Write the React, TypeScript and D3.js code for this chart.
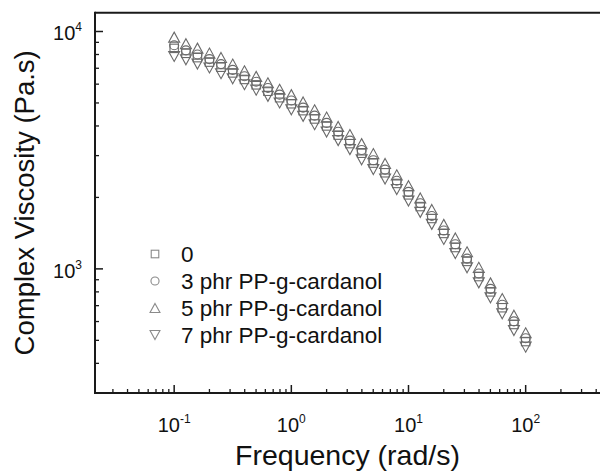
import React from "react";
import * as d3 from "d3";

const freq = [0.1, 0.126, 0.158, 0.2, 0.251, 0.316, 0.398, 0.501, 0.631, 0.794, 1, 1.26, 1.58, 2, 2.51, 3.16, 3.98, 5.01, 6.31, 7.94, 10, 12.6, 15.8, 20, 25.1, 31.6, 39.8, 50.1, 63.1, 79.4, 100];
const visc0 = [8490, 8090, 7760, 7430, 7070, 6690, 6280, 5960, 5600, 5260, 4960, 4640, 4280, 4000, 3660, 3370, 3070, 2790, 2540, 2290, 2050, 1830, 1630, 1410, 1230, 1075, 928, 800, 686, 583, 494];
const visc3 = [8750, 8330, 8000, 7650, 7290, 6890, 6480, 6140, 5780, 5420, 5120, 4780, 4420, 4120, 3780, 3470, 3170, 2870, 2620, 2350, 2110, 1890, 1670, 1450, 1270, 1105, 956, 824, 706, 601, 510];
const visc5 = [9470, 8880, 8510, 8110, 7770, 7290, 6830, 6470, 6080, 5710, 5420, 5050, 4680, 4360, 3980, 3680, 3370, 3060, 2780, 2490, 2240, 1990, 1780, 1540, 1350, 1180, 1015, 873, 750, 638, 538];
const visc7 = [7850, 7600, 7290, 7020, 6640, 6320, 5970, 5660, 5330, 5000, 4680, 4390, 4050, 3770, 3470, 3180, 2880, 2620, 2390, 2160, 1930, 1730, 1540, 1330, 1160, 1010, 873, 755, 647, 550, 468];
const seriesNames = ["0", "3 phr PP-g-cardanol", "5 phr PP-g-cardanol", "7 phr PP-g-cardanol"];
const seriesShapes = ["square", "circle", "up", "down"];
const xTickExps = [-1, 0, 1, 2];
const yTickExps = [3, 4];
const xTitle = "Frequency (rad/s)";
const yTitle = "Complex Viscosity (Pa.s)";

const FONT = "Arial, 'Liberation Sans', Helvetica, sans-serif";

function Marker({ shape, cx, cy, s, color }: { shape: string; cx: number; cy: number; s: number; color: string }) {
  const common = { fill: "none", stroke: color, strokeWidth: 1.1 };
  if (shape === "square") {
    const h = s * 0.42;
    return <rect x={cx - h} y={cy - h} width={2 * h} height={2 * h} {...common} />;
  }
  if (shape === "circle") {
    return <circle cx={cx} cy={cy} r={s * 0.45} {...common} />;
  }
  const w = s * 0.55;
  const hh = s * 0.5;
  if (shape === "up") {
    return <path d={`M${cx},${cy - hh}L${cx + w},${cy + hh}L${cx - w},${cy + hh}Z`} {...common} />;
  }
  return <path d={`M${cx},${cy + hh}L${cx + w},${cy - hh}L${cx - w},${cy - hh}Z`} {...common} />;
}

export default function App() {
  const W = 600, H = 472;
  const left = 95, right = 600, top = 12.7, bottom = 393;
  const x = d3.scaleLog().domain([0.0211, 431]).range([left, right]);
  const y = d3.scaleLog().domain([300, 12000]).range([bottom, top]);

  const series = [visc0, visc3, visc5, visc7];

  const xMinor: number[] = [];
  for (let d = -2; d <= 2; d++) for (let k = 2; k <= 9; k++) {
    const v = k * Math.pow(10, d);
    if (v > x.domain()[0] && v < x.domain()[1]) xMinor.push(v);
  }
  const yMinor: number[] = [];
  for (let d = 2; d <= 4; d++) for (let k = 2; k <= 9; k++) {
    const v = k * Math.pow(10, d);
    if (v > y.domain()[0] && v < y.domain()[1]) yMinor.push(v);
  }

  const axisColor = "#1a1a1a";
  const markerColor = "#6a6a6a";
  const legendColor = "#8a8a8a";

  return (
    <svg width={W} height={H} style={{ position: "absolute", left: 0, top: 0, background: "#fff" }} fontFamily={FONT}>
      <rect x={0} y={0} width={W} height={H} fill="#fff" />
      {/* data */}
      <g>
        {series.map((vals, si) =>
          vals.map((v, i) => (
            <Marker key={`${si}-${i}`} shape={seriesShapes[si]} cx={x(freq[i])} cy={y(v)} s={10} color={markerColor} />
          ))
        )}
      </g>
      {/* axes */}
      <line x1={left} x2={right} y1={top} y2={top} stroke={axisColor} strokeWidth={2} />
      <line x1={left} x2={left} y1={top - 1} y2={bottom + 1} stroke={axisColor} strokeWidth={2} />
      <line x1={left - 1} x2={right} y1={bottom} y2={bottom} stroke={axisColor} strokeWidth={2} />
      {xMinor.map((v, i) => (
        <line key={`xm${i}`} x1={x(v)} x2={x(v)} y1={bottom} y2={bottom - 4} stroke={axisColor} strokeWidth={1.3} />
      ))}
      {xTickExps.map((e) => (
        <g key={`xt${e}`}>
          <line x1={x(Math.pow(10, e))} x2={x(Math.pow(10, e))} y1={bottom} y2={bottom - 8} stroke={axisColor} strokeWidth={1.5} />
          <text x={x(Math.pow(10, e))} y={432} textAnchor="middle" fontSize={20} fill="#111">
            10<tspan fontSize={12} dy={-9}>{e}</tspan>
          </text>
        </g>
      ))}
      {yMinor.map((v, i) => (
        <line key={`ym${i}`} x1={left} x2={left + 4} y1={y(v)} y2={y(v)} stroke={axisColor} strokeWidth={1.3} />
      ))}
      {yTickExps.map((e) => (
        <g key={`yt${e}`}>
          <line x1={left} x2={left + 8} y1={y(Math.pow(10, e))} y2={y(Math.pow(10, e))} stroke={axisColor} strokeWidth={1.5} />
          <text x={82} y={y(Math.pow(10, e)) + 9} textAnchor="end" fontSize={20} fill="#111">
            10<tspan fontSize={12} dy={-9}>{e}</tspan>
          </text>
        </g>
      ))}
      {/* titles */}
      <text x={(left + right) / 2} y={465} textAnchor="middle" fontSize={28.5} fill="#111">{xTitle}</text>
      <text transform={`translate(34,${(top + bottom) / 2}) rotate(-90)`} textAnchor="middle" fontSize={27.5} fill="#111">{yTitle}</text>
      {/* legend */}
      {seriesNames.map((name, i) => (
        <g key={`lg${i}`}>
          <Marker shape={seriesShapes[i]} cx={155} cy={254 + i * 27} s={9} color={legendColor} />
          <text x={181} y={254 + i * 27 + 7.5} fontSize={22.5} fill="#111">{name}</text>
        </g>
      ))}
    </svg>
  );
}
